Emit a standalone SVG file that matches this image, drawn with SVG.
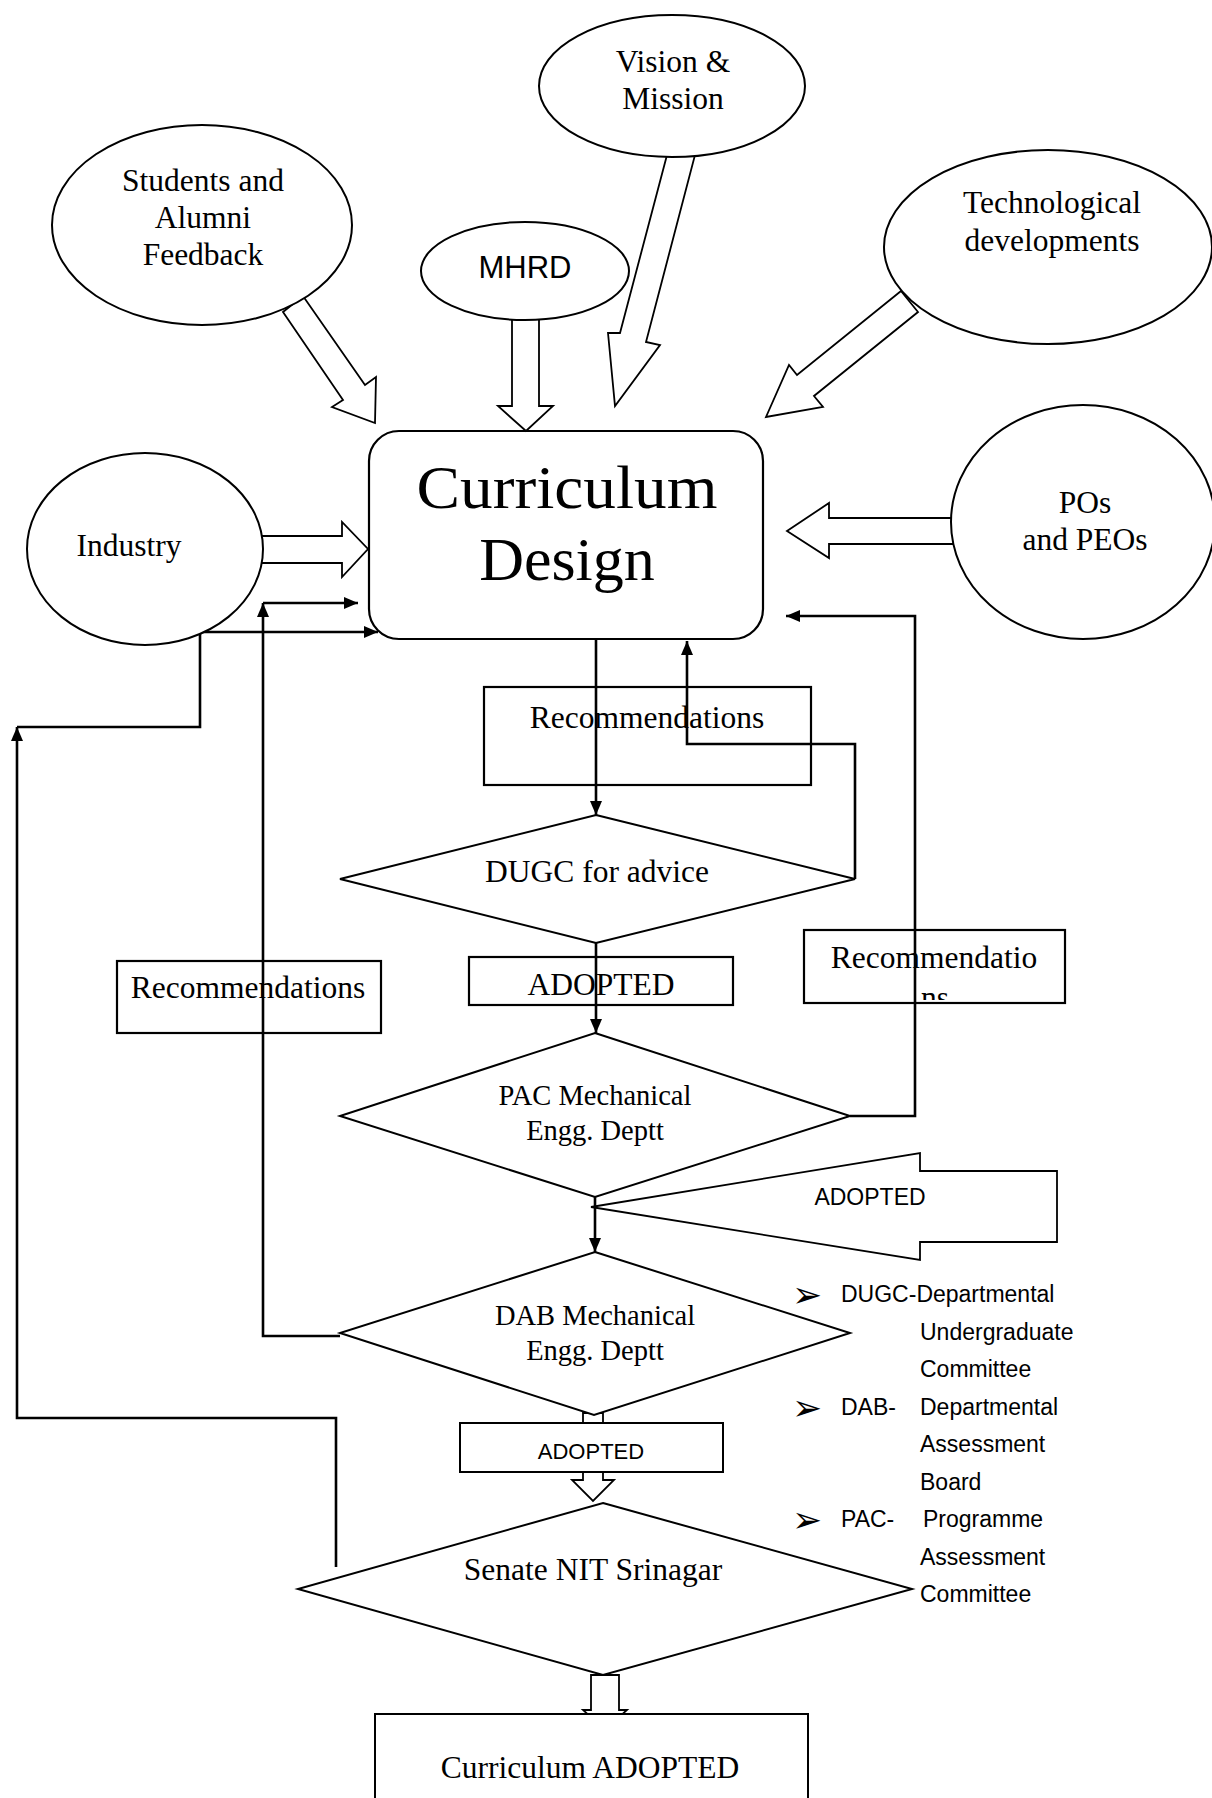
<svg xmlns="http://www.w3.org/2000/svg" width="1212" height="1798" viewBox="0 0 1212 1798">
<defs>
<style>
.serif{font-family:"Liberation Serif","Times New Roman",serif;fill:#000}
.sans{font-family:"Liberation Sans",Arial,sans-serif;fill:#000}
.lbl{font-size:31.5px;text-anchor:middle}
.dia{font-size:28.5px;text-anchor:middle}
.shape{fill:#fff;stroke:#000;stroke-width:2}
.open{fill:none;stroke:#000;stroke-width:2.2}
.blk{fill:#fff;stroke:#000;stroke-width:1.8;stroke-linejoin:miter}
.ln{fill:none;stroke:#000;stroke-width:2.6}
.leg{font-size:23px}
.bul{font-family:"DejaVu Sans",sans-serif;font-size:36px}
</style>
<marker id="ah" viewBox="0 0 14 12" refX="14" refY="6" markerWidth="14" markerHeight="12" markerUnits="userSpaceOnUse" orient="auto">
<path d="M0,0 L14,6 L0,12 z" fill="#000"/>
</marker>
<clipPath id="clipR"><rect x="804" y="930" width="261" height="70"/></clipPath>
</defs>
<rect width="1212" height="1798" fill="#fff"/>

<g id="connectors">
<polygon class="blk" points="283,312 343,400 332,407 375,423 376,377 365,385 303,296"/>
<polygon class="blk" points="512,316 512,406 498,406 526,431 553,406 539,406 539,316"/>
<polygon class="blk" points="667,155 620,333 608,333 615,406 660,345 646,342 695,155"/>
<polygon class="blk" points="901,291 797,375 789,365 766,417 823,407 814,396 918,312"/>
<polygon class="blk" points="260,536 342,536 342,522 368,549 342,577 342,563 260,563"/>
<polygon class="blk" points="954,518 829,518 829,503 787,531 829,558 829,544 954,544"/>
<polygon class="blk" points="583,1413 583,1480 572,1480 593,1501 614,1480 603,1480 603,1413"/>
<polygon class="blk" points="591,1675 591,1710 583,1710 605,1730 627,1710 619,1710 619,1675"/>
<path class="ln" d="M596,640 V815" marker-end="url(#ah)"/>
<path class="ln" d="M596,943 V1033" marker-end="url(#ah)"/>
<path class="ln" d="M595,1197 V1252" marker-end="url(#ah)"/>
<path class="ln" d="M855,879 V744 H687 V641" marker-end="url(#ah)"/>
<path class="ln" d="M850,1116 H915 V616 H786" marker-end="url(#ah)"/>
<path class="ln" d="M340,1336 H263 V603" marker-end="url(#ah)"/>
<path class="ln" d="M263,603 H358" marker-end="url(#ah)"/>
<path class="ln" d="M336,1567 V1418 H17 V727" marker-end="url(#ah)"/>
<path class="ln" d="M17,727 H200 V632 H378" marker-end="url(#ah)"/>
</g>

<g id="students">
<ellipse class="shape" cx="202" cy="225" rx="150" ry="100"/>
<text class="serif lbl" x="203" y="191">Students and</text>
<text class="serif lbl" x="203" y="228">Alumni</text>
<text class="serif lbl" x="203" y="265">Feedback</text>
</g>
<g id="vision">
<ellipse class="shape" cx="672" cy="86" rx="133" ry="71"/>
<text class="serif lbl" x="673" y="72">Vision &amp;</text>
<text class="serif lbl" x="673" y="109">Mission</text>
</g>
<g id="mhrd">
<ellipse class="shape" cx="525" cy="271" rx="104" ry="49"/>
<text class="sans" x="525" y="278" font-size="31" text-anchor="middle">MHRD</text>
</g>
<g id="tech">
<ellipse class="shape" cx="1048" cy="247" rx="164" ry="97"/>
<text class="serif lbl" x="1052" y="213">Technological</text>
<text class="serif lbl" x="1052" y="251">developments</text>
</g>
<g id="industry">
<ellipse class="shape" cx="145" cy="549" rx="118" ry="96"/>
<text class="serif lbl" x="129" y="556">Industry</text>
</g>
<g id="pos">
<ellipse class="shape" cx="1083" cy="522" rx="132" ry="117"/>
<text class="serif lbl" x="1085" y="513">POs</text>
<text class="serif lbl" x="1085" y="550">and PEOs</text>
</g>
<g id="curriculum-design">
<rect class="open" x="369" y="431" width="394" height="208" rx="30" ry="30"/>
<text class="serif" x="567" y="508" font-size="62" text-anchor="middle" textLength="301" lengthAdjust="spacingAndGlyphs">Curriculum</text>
<text class="serif" x="567" y="580" font-size="62" text-anchor="middle">Design</text>
</g>
<g id="recommendations-top">
<rect class="open" x="484" y="687" width="327" height="98"/>
<text class="serif lbl" x="647" y="728">Recommendations</text>
</g>
<g id="dugc">
<polygon class="shape" points="596,815 855,879 596,943 340,879"/>
<text class="serif lbl" x="597" y="882">DUGC for advice</text>
</g>
<g id="adopted-1">
<rect class="open" x="469" y="957" width="264" height="48"/>
<text class="serif lbl" x="601" y="995">ADOPTED</text>
</g>
<g id="recommendations-left">
<rect class="open" x="117" y="961" width="264" height="72"/>
<text class="serif lbl" x="248" y="998">Recommendations</text>
</g>
<g id="recommendations-right">
<rect class="open" x="804" y="930" width="261" height="73"/>
<text class="serif lbl" x="934" y="968">Recommendatio</text>
<text class="serif lbl" x="935" y="1008" clip-path="url(#clipR)">ns</text>
</g>
<g id="pac">
<polygon class="shape" points="595,1033 850,1116 595,1197 340,1116"/>
<text class="serif dia" x="595" y="1105">PAC Mechanical</text>
<text class="serif dia" x="595" y="1140">Engg. Deptt</text>
</g>
<g id="adopted-arrow">
<polygon class="blk" style="fill:none" points="591,1207 920,1153 920,1171 1057,1171 1057,1242 920,1242 920,1260"/>
<text class="sans" x="870" y="1205" font-size="23" text-anchor="middle">ADOPTED</text>
</g>
<g id="dab">
<polygon class="shape" points="595,1252 850,1333 594,1415 340,1333"/>
<text class="serif dia" x="595" y="1325">DAB Mechanical</text>
<text class="serif dia" x="595" y="1360">Engg. Deptt</text>
</g>
<g id="adopted-2">
<rect class="shape" x="460" y="1423" width="263" height="49"/>
<text class="sans" x="591" y="1459" font-size="22" text-anchor="middle">ADOPTED</text>
</g>
<g id="senate">
<polygon class="shape" points="603,1503 912,1589 603,1675 298,1589"/>
<text class="serif lbl" x="593" y="1580">Senate NIT Srinagar</text>
</g>
<g id="curriculum-adopted">
<rect class="shape" x="375" y="1714" width="433" height="100"/>
<text class="serif lbl" x="590" y="1778">Curriculum ADOPTED</text>
</g>
<g id="legend">
<text class="bul" x="792" y="1307">➢</text>
<text class="sans leg" x="841" y="1302">DUGC-Departmental</text>
<text class="sans leg" x="920" y="1340">Undergraduate</text>
<text class="sans leg" x="920" y="1377">Committee</text>
<text class="bul" x="792" y="1420">➢</text>
<text class="sans leg" x="841" y="1415">DAB-</text>
<text class="sans leg" x="920" y="1415">Departmental</text>
<text class="sans leg" x="920" y="1452">Assessment</text>
<text class="sans leg" x="920" y="1490">Board</text>
<text class="bul" x="792" y="1532">➢</text>
<text class="sans leg" x="841" y="1527">PAC-</text>
<text class="sans leg" x="923" y="1527">Programme</text>
<text class="sans leg" x="920" y="1565">Assessment</text>
<text class="sans leg" x="920" y="1602">Committee</text>
</g>
</svg>
